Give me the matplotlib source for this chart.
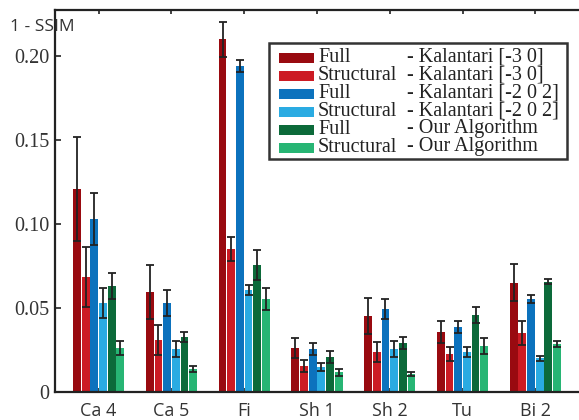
import matplotlib
matplotlib.use("Agg")
import matplotlib.pyplot as plt
from matplotlib.patches import Rectangle
import numpy as np

# 数据: 1 - SSIM 均值与误差
groups = ['Ca 4', 'Ca 5', 'Fi', 'Sh 1', 'Sh 2', 'Tu', 'Bi 2']
methods = ['Full', 'Structural', 'Full', 'Structural', 'Full', 'Structural']
sources = ['- Kalantari [-3 0]', '- Kalantari [-3 0]', '- Kalantari [-2 0 2]',
           '- Kalantari [-2 0 2]', '- Our Algorithm', '- Our Algorithm']
colors = ['#990a10', '#cc1b24', '#0c72bd', '#2aabe2', '#0c6a3a', '#27b574']

full_k30 = [0.121, 0.0595, 0.210, 0.0262, 0.0452, 0.0357, 0.0649]
struct_k30 = [0.0685, 0.031, 0.0851, 0.0155, 0.0236, 0.0226, 0.0351]
full_k202 = [0.103, 0.053, 0.194, 0.0256, 0.0494, 0.0387, 0.0552]
struct_k202 = [0.053, 0.0256, 0.0607, 0.0147, 0.0256, 0.0238, 0.0200]
full_our = [0.0631, 0.0327, 0.0756, 0.0208, 0.0292, 0.0458, 0.0657]
struct_our = [0.0262, 0.0137, 0.0554, 0.0117, 0.0107, 0.0274, 0.0288]

err_full_k30 = [0.031, 0.016, 0.0104, 0.0057, 0.0105, 0.0065, 0.011]
err_struct_k30 = [0.018, 0.009, 0.0074, 0.0035, 0.006, 0.004, 0.007]
err_full_k202 = [0.0155, 0.0077, 0.0037, 0.0034, 0.006, 0.0033, 0.0025]
err_struct_k202 = [0.009, 0.005, 0.003, 0.0024, 0.0046, 0.0027, 0.0014]
err_full_our = [0.008, 0.0028, 0.0089, 0.0038, 0.0037, 0.0048, 0.0014]
err_struct_our = [0.004, 0.0017, 0.0068, 0.0022, 0.0014, 0.0048, 0.0018]

series = [full_k30, struct_k30, full_k202, struct_k202, full_our, struct_our]
errors = [err_full_k30, err_struct_k30, err_full_k202, err_struct_k202,
          err_full_our, err_struct_our]

yticks = [0, 0.05, 0.10, 0.15, 0.20]
ytick_labels = ['0', '0.05', '0.10', '0.15', '0.20']

serif = ['Liberation Serif', 'DejaVu Serif']
sans = ['Open Sans', 'DejaVu Sans']

fig = plt.figure(figsize=(5.79, 4.2), dpi=100)
ax = fig.add_axes([55 / 579, 28 / 420, 524 / 579, 382 / 420])

x = np.arange(1, len(groups) + 1)
step = 0.119
for k in range(len(series)):
    ax.bar(x + (k - 2.5) * step, series[k], width=step - 0.012, color=colors[k],
           yerr=errors[k], capsize=3, ecolor='#222222',
           error_kw={'elinewidth': 1.3, 'capthick': 1.3}, zorder=2)

ax.set_xlim(0.4, 7.6)
ax.set_ylim(0, 0.2274)
ax.set_xticks(x)
ax.set_xticklabels(groups, fontfamily=sans, fontsize=13, color='#333333')
ax.set_yticks(yticks)
ax.set_yticklabels(ytick_labels, fontfamily=serif, fontsize=14.5, color='#333333')
ax.tick_params(axis='x', direction='in', length=3, width=1.2, pad=7,
               top=True, color='#222222')
ax.tick_params(axis='y', direction='in', length=4, width=1.2, pad=4,
               color='#222222')
ax.spines['right'].set_visible(False)
for s in ['left', 'bottom', 'top']:
    ax.spines[s].set_linewidth(1.6)
    ax.spines[s].set_color('#222222')

fig.text(10 / 579, 1 - 27 / 420, '1 - SSIM', fontfamily=sans, fontsize=12.5,
         color='#333333', va='center', ha='left')

# 图例（手工绘制，两列对齐）
box = Rectangle((269 / 579, 1 - 159 / 420), 298 / 579, 116 / 420,
                transform=fig.transFigure, facecolor='white',
                edgecolor='#333333', linewidth=1.8, zorder=5)
fig.patches.append(box)
for k in range(len(series)):
    yc = 1 - (57 + k * 18) / 420
    fig.patches.append(Rectangle((279 / 579, yc - 6 / 420), 35 / 579, 10 / 420,
                                 transform=fig.transFigure, facecolor=colors[k],
                                 edgecolor='none', zorder=6))
    fig.text(318 / 579, yc, methods[k], fontfamily=serif, fontsize=14.5,
             color='#222222', va='center', ha='left', zorder=7)
    fig.text(407 / 579, yc, sources[k], fontfamily=serif, fontsize=14.5,
             color='#222222', va='center', ha='left', zorder=7)

plt.savefig('out.png', dpi=100)
